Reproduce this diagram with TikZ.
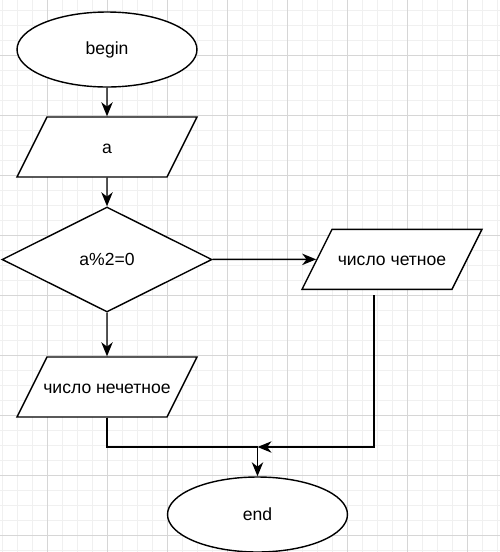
\documentclass[tikz,border=0pt]{standalone}
\usepackage{fontspec}
\setmainfont{Liberation Sans}
\usetikzlibrary{arrows.meta,shapes.geometric}
\definecolor{gridmajor}{RGB}{214,214,214}
\definecolor{gridminor}{RGB}{240,240,240}
\newcommand{\iobox}[1]{\makebox[2.4cm]{#1}}

\begin{document}
\begin{tikzpicture}[x=0.02cm,y=-0.02cm,->,>={Stealth[length=8pt,width=6.5pt,inset=2.5pt]},thick,
  font=\fontsize{10}{12}\selectfont,
  term node/.style={ellipse,draw,fill=white,minimum width=3.6cm,minimum height=1.5cm},
  io node/.style={trapezium,trapezium left angle=63.43,trapezium right angle=116.57,
    draw,fill=white,inner sep=0pt,text height=20.6pt,text depth=13.54pt},
  cond node/.style={diamond,aspect=2,draw,fill=white,minimum width=4.2cm,minimum height=2.1cm},
  grid line/.style={-,line width=0.5pt}]

  \useasboundingbox (0,0) rectangle (500,552);

  % background grid
  \foreach \x in {2,17,...,497} \draw[grid line,gridminor] (\x,0) -- (\x,552);
  \foreach \y in {10,25,...,550} \draw[grid line,gridminor] (0,\y) -- (500,\y);
  \foreach \x in {47,107,...,467} \draw[grid line,gridmajor] (\x,0) -- (\x,552);
  \foreach \y in {55,115,...,535} \draw[grid line,gridmajor] (0,\y) -- (500,\y);

  \node[term node] (1) at (107,49.5) {begin};
  \node[io node] (2) at (107,147) {\iobox{a}};
  \node[cond node] (3) at (107,259.5) {a\%2=0};
  \node[io node] (4) at (392,259.3) {\iobox{число четное}};
  \node[io node] (5) at (107,387) {\iobox{число нечетное}};
  \node[term node] (6) at (257.5,514.5) {end};
  \coordinate (m) at (257.5,447);

  \path
    (1) edge (2)
    (2) edge (3)
    (3) edge (4)
    (3) edge (5)
    ;

  \draw[-] (5.south) |- (m);
  \draw ([xshift=-0.36cm,yshift=-0.1cm]4.south) |- (m);
  \draw (m) -- (6.north);

\end{tikzpicture}
\end{document}
